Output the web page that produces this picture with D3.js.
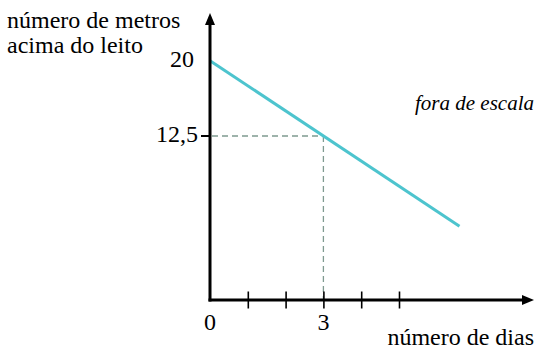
<!DOCTYPE html>
<html><head><meta charset="utf-8">
<script src="https://cdn.jsdelivr.net/npm/d3@7"></script>
<style>
html,body{margin:0;padding:0;background:#fff;}
svg text{font-family:"Liberation Serif","Times New Roman",serif;}
</style></head>
<body><svg id="c" width="538" height="350"></svg>
<script>
// data
const days = [0, 6.6];
const meters = [20, 3.5];
const tickDays = [1, 2, 3, 4, 5];
const dayLabels = [{d:0, t:"0"}, {d:3, t:"3"}];
const markDay = 3;
const markValue = 12.5;
const yLabels = [{v:20, t:"20"}, {v:12.5, t:"12,5"}];
const yTitle = ["número de metros", "acima do leito"];
const xTitle = "número de dias";
const note = "fora de escala";

const FONT = "Liberation Serif";
const svg = d3.select("#c");
const x = d3.scaleLinear().domain([0, 1]).range([210, 247.8]);
// fora de escala: y scale is not anchored at zero
const y = d3.scaleLinear().domain([12.5, 20]).range([136, 60.7]);
const x0 = 210, yBase = 300;

// dashed guides
svg.append("line").attr("x1", x0+2).attr("x2", x(markDay)).attr("y1", y(markValue)).attr("y2", y(markValue))
  .attr("stroke", "#7f9a90").attr("stroke-width", 1.3).attr("stroke-dasharray", "6,4");
svg.append("line").attr("x1", x(markDay)).attr("x2", x(markDay)).attr("y1", y(markValue)).attr("y2", yBase)
  .attr("stroke", "#7f9a90").attr("stroke-width", 1.3).attr("stroke-dasharray", "6,4");

// line
const pts = days.map((d,i)=>[d, meters[i]]);
svg.append("path").datum(pts)
  .attr("d", d3.line().x(d=>x(d[0])).y(d=>y(d[1])))
  .attr("fill", "none").attr("stroke", "#4dc4ce").attr("stroke-width", 3);

// axes
svg.append("line").attr("x1", x0).attr("x2", x0).attr("y1", yBase+1.5).attr("y2", 22)
  .attr("stroke", "#000").attr("stroke-width", 3);
svg.append("path").attr("d", `M${x0},13 L${x0-5},25 L${x0+5},25 Z`).attr("fill", "#000");
svg.append("line").attr("x1", x0-1.5).attr("x2", 524).attr("y1", yBase).attr("y2", yBase)
  .attr("stroke", "#000").attr("stroke-width", 3);
svg.append("path").attr("d", `M534,${yBase} L522,${yBase-5} L522,${yBase+5} Z`).attr("fill", "#000");

// x ticks via d3 axis
const xAxis = d3.axisBottom(x).tickValues(tickDays).tickSize(17).tickFormat("");
const gx = svg.append("g").attr("transform", `translate(0,${yBase-8.5})`).call(xAxis);
gx.select(".domain").remove();
gx.selectAll(".tick line").attr("stroke", "#000").attr("stroke-width", 1.6);

// y tick at 12.5
svg.append("line").attr("x1", 201).attr("x2", x0).attr("y1", y(markValue)).attr("y2", y(markValue))
  .attr("stroke", "#000").attr("stroke-width", 2);

// labels
const txt = sel => sel.attr("font-family", FONT).attr("fill", "#000");
svg.selectAll("text.yl").data(yLabels).enter().append("text").call(txt)
  .attr("x", d=> d.v===20 ? 194 : 198).attr("y", d=> d.v===20 ? 67 : 142)
  .attr("text-anchor", "end").attr("font-size", 24).text(d=>d.t);
svg.selectAll("text.xl").data(dayLabels).enter().append("text").call(txt)
  .attr("x", d=>x(d.d)).attr("y", 330)
  .attr("text-anchor", "middle").attr("font-size", 24).text(d=>d.t);
svg.selectAll("text.yt").data(yTitle).enter().append("text").call(txt)
  .attr("x", 7).attr("y", (d,i)=>28+i*25).attr("font-size", 24).text(d=>d);
svg.append("text").call(txt).attr("x", 534).attr("y", 345).attr("text-anchor", "end").attr("font-size", 24).text(xTitle);
svg.append("text").call(txt).attr("x", 534).attr("y", 110).attr("text-anchor", "end").attr("font-size", 21)
  .attr("font-style", "italic").text(note);
</script></body></html>
